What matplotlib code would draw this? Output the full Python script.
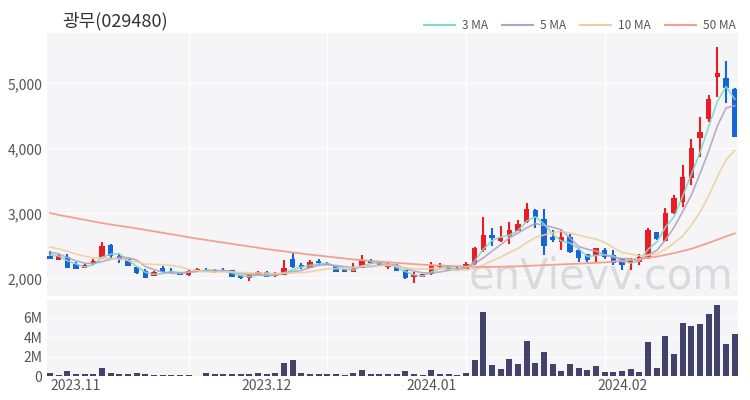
import numpy as np
import pandas as pd
import matplotlib
matplotlib.use("Agg")
import matplotlib.pyplot as plt
from matplotlib.lines import Line2D

plt.rcParams['font.family'] = ['Noto Sans CJK KR', 'DejaVu Sans']

title = "광무(029480)"

# trading days (KRX holidays removed)
holidays = ["2023-12-25", "2023-12-29", "2024-01-01", "2024-02-09", "2024-02-12"]
dates = pd.bdate_range("2023-10-27", "2024-02-22")
dates = dates[~dates.isin(pd.to_datetime(holidays))]

opens = [2348, 2286, 2332, 2215, 2165, 2215, 2317, 2520, 2345, 2290,
         2175, 2110, 2035, 2160, 2120, 2095, 2055, 2105, 2125, 2105,
         2130, 2130, 2050, 2000, 2065, 2100, 2040, 2055, 2295, 2200,
         2165, 2265, 2235, 2195, 2150, 2105, 2165, 2265, 2265, 2175,
         2210, 2125, 2020, 2025, 2065, 2170, 2195, 2160, 2145, 2215,
         2435, 2665, 2575, 2655, 2735, 2870, 3050, 2920, 2640, 2565,
         2640, 2435, 2370, 2360, 2435, 2355, 2290, 2240, 2250, 2310,
         2715, 2580, 3000, 3180, 3550, 4155, 4445, 5095, 5075, 4920]
highs = [2420, 2378, 2370, 2245, 2225, 2300, 2565, 2525, 2370, 2300,
         2180, 2140, 2110, 2195, 2160, 2100, 2130, 2160, 2160, 2150,
         2160, 2135, 2055, 2065, 2110, 2110, 2100, 2280, 2400, 2240,
         2275, 2290, 2245, 2200, 2155, 2230, 2360, 2290, 2270, 2230,
         2215, 2130, 2090, 2065, 2255, 2230, 2200, 2170, 2255, 2480,
         2948, 2770, 2810, 2870, 2900, 3155, 3060, 3065, 2745, 2745,
         2680, 2445, 2380, 2470, 2470, 2435, 2300, 2310, 2370, 2770,
         2720, 3080, 3275, 3740, 4150, 4485, 4820, 5565, 5345, 4935]
lows = [2290, 2280, 2160, 2140, 2160, 2205, 2300, 2310, 2240, 2185,
        2070, 2000, 2030, 2100, 2080, 2045, 2040, 2100, 2090, 2085,
        2100, 2015, 1995, 1960, 2050, 2015, 2020, 2050, 2165, 2140,
        2160, 2210, 2200, 2100, 2100, 2095, 2160, 2220, 2190, 2150,
        2110, 1995, 1925, 2020, 2055, 2140, 2110, 2120, 2140, 2205,
        2410, 2490, 2565, 2525, 2730, 2845, 2770, 2360, 2560, 2435,
        2385, 2255, 2255, 2255, 2305, 2205, 2130, 2130, 2200, 2290,
        2595, 2575, 2990, 3100, 3430, 3865, 4410, 4795, 4705, 4170]
closes = [2297, 2348, 2165, 2150, 2210, 2265, 2500, 2345, 2290, 2190,
          2075, 2010, 2100, 2105, 2105, 2055, 2120, 2150, 2110, 2120,
          2110, 2020, 2000, 2060, 2090, 2025, 2060, 2165, 2175, 2180,
          2245, 2240, 2210, 2105, 2105, 2175, 2280, 2240, 2195, 2200,
          2115, 2000, 2045, 2060, 2190, 2200, 2115, 2125, 2220, 2460,
          2666, 2620, 2625, 2745, 2830, 3065, 2950, 2490, 2590, 2640,
          2410, 2310, 2285, 2460, 2335, 2235, 2210, 2260, 2330, 2745,
          2600, 3010, 3230, 3560, 4010, 4250, 4755, 5160, 4935, 4180]
# closes before the first shown day
prior_closes = [2600, 2580, 2560, 2540, 2520, 2480, 2450, 2400, 2380]
volumes = [0.34, 0.08, 0.55, 0.17, 0.17, 0.17, 0.86, 0.28, 0.17, 0.17,
           0.34, 0.17, 0.10, 0.10, 0.10, 0.10, 0.10, 0.05, 0.34, 0.17,
           0.17, 0.20, 0.20, 0.20, 0.34, 0.20, 0.30, 1.31, 1.65, 0.34,
           0.20, 0.17, 0.17, 0.17, 0.10, 0.30, 0.62, 0.17, 0.17, 0.17,
           0.17, 0.52, 0.24, 0.07, 0.65, 0.20, 0.17, 0.07, 0.34, 1.62,
           6.60, 1.10, 0.69, 1.76, 1.28, 3.60, 1.38, 2.48, 1.24, 0.52,
           1.28, 0.79, 0.65, 1.07, 0.41, 0.45, 0.48, 0.69, 0.38, 3.45,
           0.83, 4.07, 2.24, 5.41, 5.17, 5.34, 6.38, 7.24, 3.28, 4.34]
ma50 = [3005, 2975, 2950, 2925, 2900, 2875, 2850, 2828, 2808, 2788,
        2768, 2745, 2722, 2700, 2678, 2655, 2632, 2610, 2590, 2570,
        2550, 2530, 2510, 2490, 2470, 2450, 2432, 2415, 2398, 2382,
        2365, 2350, 2335, 2320, 2305, 2290, 2280, 2268, 2258, 2248,
        2238, 2228, 2218, 2210, 2203, 2196, 2190, 2185, 2181, 2178,
        2176, 2176, 2178, 2181, 2185, 2190, 2196, 2202, 2208, 2214,
        2220, 2226, 2232, 2238, 2245, 2258, 2268, 2282, 2298, 2315,
        2335, 2360, 2388, 2420, 2455, 2500, 2545, 2595, 2645, 2690]

n = len(closes)
x = np.arange(n)
allc = pd.Series(prior_closes + closes)
ma3 = allc.rolling(3).mean().values[len(prior_closes):]
ma5 = allc.rolling(5).mean().values[len(prior_closes):]
ma10 = allc.rolling(10).mean().values[len(prior_closes):]

red = "#ec1c24"
blue = "#1565d8"
bg = "#f5f5f7"
txt = "#555555"

fig = plt.figure(figsize=(7.5, 4), dpi=100)
ax = fig.add_axes([0.0627, 0.26, 0.921, 0.6575])
axv = fig.add_axes([0.0627, 0.06, 0.921, 0.19], sharex=ax)

for a in (ax, axv):
    a.set_facecolor(bg)
    for s in a.spines.values():
        s.set_visible(False)
    a.tick_params(length=0, colors=txt, labelsize=10)
    for gx in [16, 32, 48, 64]:
        a.axvline(gx, color="white", lw=1, zorder=0)

for gy in [2000, 3000, 4000, 5000]:
    ax.axhline(gy, color="white", lw=1, zorder=0)
for gy in [2e6, 4e6, 6e6]:
    axv.axhline(gy, color="white", lw=1, zorder=0)

# candles
for i in range(n):
    c = red if closes[i] >= opens[i] else blue
    ax.vlines(x[i], lows[i], highs[i], color=c, lw=1.5, zorder=2)
    lo = min(opens[i], closes[i])
    h = max(abs(closes[i] - opens[i]), 12)
    ax.bar(x[i], h, bottom=lo, width=0.62, color=c, zorder=2)

ax.plot(x, ma3, color="#7fd8cc", lw=1.2, alpha=0.9, zorder=3, label="3 MA")
ax.plot(x, ma5, color="#b3a2c6", lw=1.2, alpha=0.9, zorder=3, label="5 MA")
ax.plot(x, ma10, color="#f2cd9b", lw=1.2, alpha=0.9, zorder=3, label="10 MA")
ax.plot(x, ma50, color="#f3a090", lw=1.3, zorder=3, label="50 MA")

ax.text(0.61, 0.03, "enVievv.com", transform=ax.transAxes, fontsize=30,
        color="#d4d4d4", alpha=0.8, zorder=1, family="DejaVu Sans")

ax.set_xlim(-0.35, n - 0.65)
ax.set_ylim(1728, 5775)
ax.set_yticks([2000, 3000, 4000, 5000])
ax.set_yticklabels(["2,000", "3,000", "4,000", "5,000"])
plt.setp(ax.get_xticklabels(), visible=False)

axv.bar(x, np.array(volumes) * 1e6, width=0.7, color="#42426a", zorder=2)
axv.set_ylim(0, 7.8e6)
axv.set_yticks([0, 2e6, 4e6, 6e6])
axv.set_yticklabels(["0", "2M", "4M", "6M"])

months = pd.Series(dates.strftime("%Y.%m"))
tick_pos = [i for i in range(1, n) if months[i] != months[i - 1]]
axv.set_xticks(tick_pos)
axv.set_xticklabels([months[i] for i in tick_pos])
axv.tick_params(axis="x", pad=2)

fig.text(0.083, 0.948, title, fontsize=13, color="#333333", va="center")

handles = [Line2D([], [], color=l.get_color(), lw=1.5) for l in ax.get_lines()[-4:]]
fig.legend(handles, ["3 MA", "5 MA", "10 MA", "50 MA"], loc="center right",
           bbox_to_anchor=(0.995, 0.937), ncol=4, frameon=False, fontsize=8.5,
           labelcolor=txt, handlelength=2.6, columnspacing=1.2, handletextpad=0.6)

fig.savefig("out.png", dpi=100)
